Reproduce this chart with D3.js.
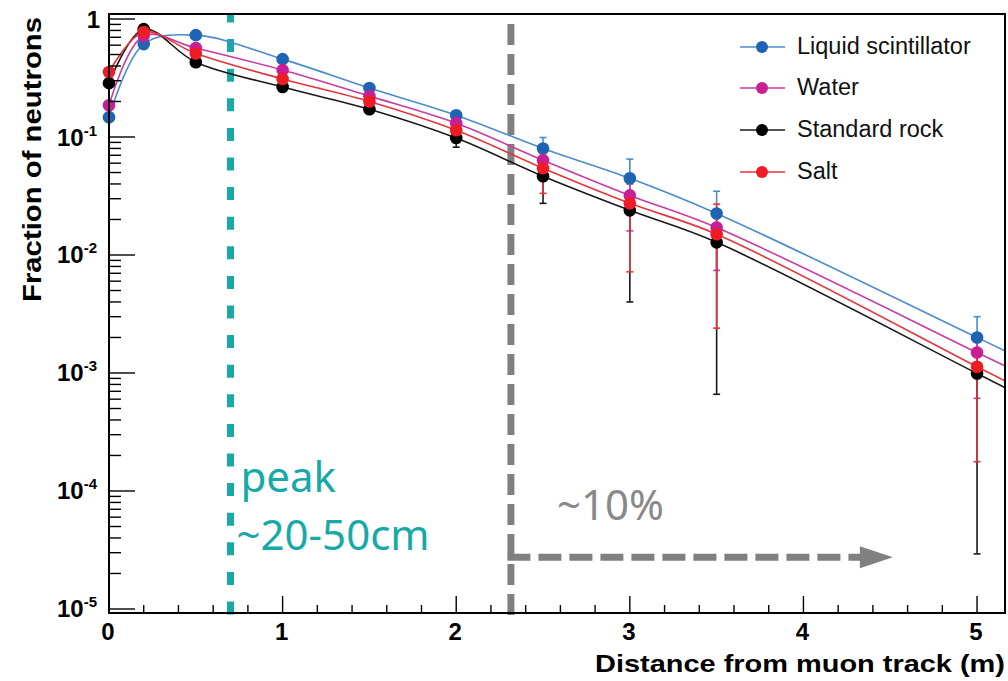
<!DOCTYPE html>
<html><head><meta charset="utf-8">
<script src="https://cdn.jsdelivr.net/npm/d3@7"></script>
<style>html,body{margin:0;padding:0;background:#fff;}svg{display:block;}</style>
</head><body>
<svg id="chart" width="1008" height="681"></svg>
<script>
// ---------- data ----------
const xVals = [0, 0.2, 0.5, 1, 1.5, 2, 2.5, 3, 3.5, 5];
const seriesNames = ["Liquid scintillator", "Water", "Standard rock", "Salt"];
const lsVals    = [0.147, 0.613, 0.73, 0.457, 0.26, 0.153, 0.080, 0.0447, 0.0225, 0.0020];
const waterVals = [0.186, 0.72, 0.567, 0.369, 0.222, 0.131, 0.0636, 0.032, 0.0171, 0.00149];
const rockVals  = [0.286, 0.82, 0.43, 0.265, 0.172, 0.098, 0.0465, 0.0239, 0.0128, 0.00099];
const saltVals  = [0.355, 0.776, 0.51, 0.31, 0.20, 0.114, 0.0543, 0.0274, 0.015, 0.00113];
const lsLow     = [null, null, null, null, null, 0.146, 0.066, 0.032, 0.0125, 0.0012];
const lsHigh    = [null, null, null, null, null, 0.16, 0.099, 0.065, 0.0347, 0.0030];
const waterLow  = [null, null, null, null, null, 0.124, 0.05, 0.016, 0.0074, 0.00061];
const waterHigh = [null, null, null, null, null, 0.138, 0.072, 0.040, 0.022, 0.0019];
const rockLow   = [null, null, null, null, null, 0.082, 0.0274, 0.004, 0.00066, 0.0000293];
const rockHigh  = [null, null, null, null, null, 0.11, 0.06, 0.03, 0.016, 0.0012];
const saltLow   = [null, null, null, null, null, 0.105, 0.0333, 0.0072, 0.0024, 0.000177];
const saltHigh  = [null, null, null, null, null, 0.124, 0.065, 0.034, 0.027, 0.0014];
const xMajorTicks = [0, 1, 2, 3, 4, 5];
const yMajorExps = [0, -1, -2, -3, -4, -5];
const xTitle = "Distance from muon track (m)";
const yTitle = "Fraction of  neutrons";
const peakX = 0.70;          // teal marker position (m)
const peakLines = ["peak", "~20-50cm"];
const cutX = 2.315;          // grey marker position (m)
const arrowY = 2.75e-5;      // level of the grey arrow
const arrowEndX = 4.515;     // arrow tip (m)
const cutLabel = "~10%";

// ---------- style ----------
const lineColors   = ["#4a8ccc", "#c93aa2", "#1a1a1a", "#e5353c"];
const markerColors = ["#1f63b3", "#c81e96", "#000000", "#ee1c25"];
const allVals = [lsVals, waterVals, rockVals, saltVals];
const allLow  = [lsLow, waterLow, rockLow, saltLow];
const allHigh = [lsHigh, waterHigh, rockHigh, saltHigh];

const L = 109, R = 1005, T = 14, B = 613;
const svg = d3.select("#chart");
const x = d3.scaleLinear().domain([0, 5.161]).range([L, R]);
const y = d3.scaleLog().domain([Math.pow(10, -5.034), Math.pow(10, 0.0424)]).range([B, T]);

svg.append("defs").append("clipPath").attr("id", "clip")
  .append("rect").attr("x", L).attr("y", T).attr("width", R - L).attr("height", B - T);

// annotations (under data)
const teal = "#16a9a7", grey = "#808080";
svg.append("line").attr("x1", x(peakX)).attr("x2", x(peakX))
  .attr("y1", T).attr("y2", B + 2)
  .attr("stroke", teal).attr("stroke-width", 7)
  .attr("stroke-dasharray", "13,16.6").attr("stroke-dashoffset", 4.5);
svg.append("line").attr("x1", x(cutX)).attr("x2", x(cutX))
  .attr("y1", B + 2).attr("y2", T)
  .attr("stroke", grey).attr("stroke-width", 7)
  .attr("stroke-dasharray", "21,9");
const ay = y(arrowY);
const tipX = x(arrowEndX);
svg.append("line").attr("x1", x(cutX) - 3.5).attr("x2", tipX - 32)
  .attr("y1", ay).attr("y2", ay)
  .attr("stroke", grey).attr("stroke-width", 7)
  .attr("stroke-dasharray", "23,8");
svg.append("path")
  .attr("d", `M${tipX},${ay} L${tipX - 33},${ay - 11} L${tipX - 33},${ay + 11} Z`)
  .attr("fill", grey);

const annFont = "'Noto Sans', 'Open Sans', sans-serif";
svg.append("text").attr("x", x(peakX) + 10).attr("y", 492)
  .attr("font-family", annFont).attr("font-size", 42).attr("fill", teal).text(peakLines[0]);
svg.append("text").attr("x", x(peakX) + 6).attr("y", 550)
  .attr("font-family", annFont).attr("font-size", 42).attr("fill", teal).text(peakLines[1]);
svg.append("text").attr("x", x(cutX) + 46).attr("y", 520)
  .attr("font-family", annFont).attr("font-size", 42).attr("fill", "#888").text(cutLabel);

// ---------- series ----------
const gData = svg.append("g").attr("clip-path", "url(#clip)");
const line = d3.line().x(d => x(d[0])).y(d => y(d[1])).curve(d3.curveCatmullRom.alpha(0.5));
allVals.forEach((vals, i) => {
  const pts = xVals.map((xv, j) => [xv, vals[j]]);
  // extend to the frame edge along the last segment (log-linear)
  const n = pts.length;
  const slope = (Math.log10(pts[n-1][1]) - Math.log10(pts[n-2][1])) / (pts[n-1][0] - pts[n-2][0]);
  const xe = x.domain()[1] + 0.05;
  pts.push([xe, Math.pow(10, Math.log10(pts[n-1][1]) + slope * (xe - pts[n-1][0]))]);
  gData.append("path").datum(pts).attr("d", line)
    .attr("fill", "none").attr("stroke", lineColors[i]).attr("stroke-width", 1.6);
});
allVals.forEach((vals, i) => {
  const g = svg.append("g");
  xVals.forEach((xv, j) => {
    const lo = allLow[i][j], hi = allHigh[i][j];
    if (lo == null) return;
    const cx = x(xv);
    g.append("line").attr("x1", cx).attr("x2", cx).attr("y1", y(lo)).attr("y2", y(hi))
      .attr("stroke", lineColors[i]).attr("stroke-width", 1.6);
    [lo, hi].forEach(v => g.append("line").attr("x1", cx - 3.5).attr("x2", cx + 3.5)
      .attr("y1", y(v)).attr("y2", y(v)).attr("stroke", lineColors[i]).attr("stroke-width", 1.6));
  });
});
allVals.forEach((vals, i) => {
  svg.append("g").selectAll("circle").data(xVals.map((xv, j) => [xv, vals[j]])).join("circle")
    .attr("cx", d => x(d[0])).attr("cy", d => y(d[1])).attr("r", 6.3)
    .attr("fill", markerColors[i]);
});

// ---------- frame & axes ----------
svg.append("rect").attr("x", L).attr("y", T).attr("width", R - L).attr("height", B - T)
  .attr("fill", "none").attr("stroke", "#000").attr("stroke-width", 2);

const axFont = "'Liberation Sans', Arial, Helvetica, sans-serif";
// x ticks
const xMinor = d3.range(0, 5.2001, 0.2).filter(v => x(v) <= R);
svg.append("g").selectAll("line").data(xMinor).join("line")
  .attr("x1", d => x(d)).attr("x2", d => x(d))
  .attr("y1", B).attr("y2", d => xMajorTicks.some(m => Math.abs(m - d) < 1e-6) ? B - 17 : B - 8)
  .attr("stroke", "#000").attr("stroke-width", 1.4);
svg.append("g").selectAll("text").data(xMajorTicks).join("text")
  .attr("x", d => x(d) - 1).attr("y", 640).attr("text-anchor", "middle")
  .attr("font-family", axFont).attr("font-weight", "bold").attr("font-size", 24)
  .text(d => d3.format("d")(d));
// y ticks
const yMinor = [];
for (let e = -5; e <= 0; e++) for (let m = 1; m <= 9; m++) {
  const v = m * Math.pow(10, e);
  if (v >= y.domain()[0] && v <= y.domain()[1]) yMinor.push({v, major: m === 1});
}
svg.append("g").selectAll("line").data(yMinor).join("line")
  .attr("x1", L).attr("x2", d => d.major ? L + 26 : L + 12)
  .attr("y1", d => y(d.v)).attr("y2", d => y(d.v))
  .attr("stroke", "#000").attr("stroke-width", 1.4);
const yLab = svg.append("g").selectAll("text").data(yMajorExps).join("text")
  .attr("x", d => d === 0 ? 100 : 97).attr("y", d => y(Math.pow(10, d)) + 8.5)
  .attr("text-anchor", "end")
  .attr("font-family", axFont).attr("font-weight", "bold").attr("font-size", 24);
yLab.each(function(d) {
  const t = d3.select(this);
  if (d === 0) { t.text("1"); return; }
  t.append("tspan").text("10");
  t.append("tspan").attr("dy", -10).attr("font-size", 15).text(String(d));
});
// titles
svg.append("text").attr("x", R).attr("y", 672).attr("text-anchor", "end")
  .attr("font-family", axFont).attr("font-weight", "bold").attr("font-size", 24)
  .attr("textLength", 410).attr("lengthAdjust", "spacingAndGlyphs").text(xTitle);
svg.append("text").attr("transform", "translate(41,302) rotate(-90)")
  .attr("font-family", axFont).attr("font-weight", "bold").attr("font-size", 25)
  .attr("textLength", 285).attr("lengthAdjust", "spacingAndGlyphs").text(yTitle);

// ---------- legend ----------
const legY = [47, 88, 130, 172];
const leg = svg.append("g");
seriesNames.forEach((name, i) => {
  leg.append("line").attr("x1", 740).attr("x2", 785).attr("y1", legY[i]).attr("y2", legY[i])
    .attr("stroke", lineColors[i]).attr("stroke-width", 1.6);
  leg.append("circle").attr("cx", 762).attr("cy", legY[i]).attr("r", 6).attr("fill", markerColors[i]);
  leg.append("text").attr("x", 797).attr("y", legY[i] + 7)
    .attr("font-family", axFont).attr("font-size", 23.5).attr("fill", "#111").text(name);
});
</script>
</body></html>
